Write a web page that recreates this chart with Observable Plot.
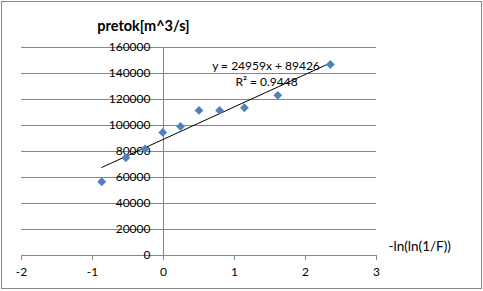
<!DOCTYPE html>
<html><head><meta charset="utf-8">
<script src="https://cdn.jsdelivr.net/npm/d3@7"></script>
<script src="https://cdn.jsdelivr.net/npm/@observablehq/plot@0.6"></script>
<style>
body{margin:0;background:#fff;}
#wrap{position:relative;width:483px;height:291px;overflow:hidden;}
#border{position:absolute;left:1px;top:1px;width:479px;height:286px;border:1px solid #868686;pointer-events:none;}
svg{display:block;}
</style></head>
<body><div id="wrap"><div id="chart"></div><div id="border"></div></div>
<script>
const title = "pretok[m^3/s]";
const xLabel = "-ln(ln(1/F))";
const xValues = [-0.87, -0.53, -0.26, -0.01, 0.24, 0.50, 0.79, 1.14, 1.61, 2.35];
const yValues = [56700, 75200, 82000, 94700, 99300, 111600, 111600, 113700, 123200, 146900];
const xTicks = [-2, -1, 0, 1, 2, 3];
const yTicks = [0, 20000, 40000, 60000, 80000, 100000, 120000, 140000, 160000];
const slope = 24959, intercept = 89426, r2 = 0.9448;

const points = xValues.map((x, i) => ({x, y: yValues[i]}));
const [x0, x1] = d3.extent(xValues);
const trend = [x0, x1].map(x => ({x, y: slope * x + intercept}));

const font = "Lato, sans-serif";
const chart = Plot.plot({
  width: 483, height: 291,
  marginLeft: 21, marginRight: 107, marginTop: 47, marginBottom: 36,
  style: {fontFamily: font, fontSize: "12px", color: "#000", background: "transparent", overflow: "visible"},
  x: {domain: [xTicks[0], xTicks[xTicks.length - 1]], axis: null},
  y: {domain: [yTicks[0], yTicks[yTicks.length - 1]], axis: null},
  marks: [
    Plot.gridY(yTicks, {stroke: "#868686", strokeOpacity: 1}),
    Plot.ruleX([0], {y1: yTicks[0], y2: yTicks[yTicks.length - 1], stroke: "#868686"}),
    Plot.axisX(xTicks, {tickSize: 5, tickPadding: 7, tickFormat: d => String(d), stroke: "#868686", fill: "#000", label: null}),
    Plot.text(yTicks, {x: d => 0, y: d => d, text: d => String(d), textAnchor: "end", dx: -13, fill: "#000"}),
    Plot.line(trend, {x: "x", y: "y", stroke: "#000", strokeWidth: 1}),
    Plot.dot(points, {x: "x", y: "y", symbol: "diamond2", r: 4, fill: "#4F81BD", stroke: null}),
    Plot.text([`y = ${slope}x + ${intercept}`], {frameAnchor: "top-left", textAnchor: "middle", lineAnchor: "middle", dx: 244.5, dy: 19, text: d => d, fill: "#000"}),
    Plot.text([`R² = ${r2}`], {frameAnchor: "top-left", textAnchor: "middle", lineAnchor: "middle", dx: 245, dy: 35, text: d => d, fill: "#000"}),
    Plot.text([title], {frameAnchor: "top-left", textAnchor: "middle", lineAnchor: "middle", dx: 122, dy: -21, text: d => d, fontWeight: "bold", fontSize: 14.5, fill: "#000"}),
    Plot.text([xLabel], {frameAnchor: "bottom-right", textAnchor: "start", lineAnchor: "middle", dx: 12, dy: -9, text: d => d, fontSize: 13.5, fill: "#000"})
  ]
});
document.getElementById("chart").appendChild(chart);
</script>
</body></html>
